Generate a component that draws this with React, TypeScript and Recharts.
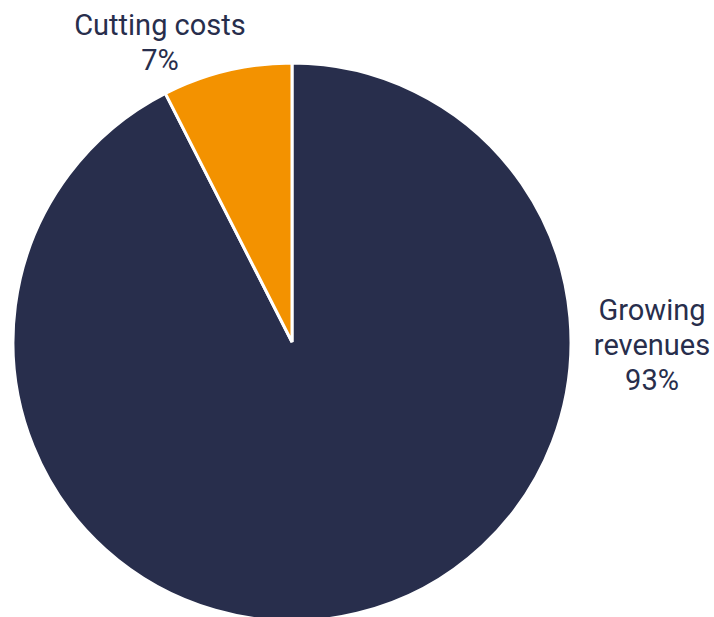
import { Cell, Pie, PieChart } from "recharts";

const CATEGORIES = ["Growing revenues", "Cutting costs"];
// slice geometry reads ~7.5%, labels are rounded
const SHARES = [92.5, 7.5];
const LABEL_LINES = [
  ["Growing", "revenues", "93%"],
  ["Cutting costs", "7%"],
];
const COLORS = ["#282e4c", "#f39200"];

const chartData = CATEGORIES.map((name, i) => ({ name, value: SHARES[i] }));

const LINE_HEIGHT = 35;

function renderLabel(props: any) {
  const { cx, cy, outerRadius, index } = props;
  const lines = LABEL_LINES[index];
  let x: number;
  let firstY: number;
  if (index === 0) {
    // big slice: to the right of the pie, centered vertically
    x = cx + outerRadius + 81;
    firstY = cy + 3 - LINE_HEIGHT;
  } else {
    // small slice: above the pie, left of the top
    x = cx - 132;
    firstY = cy - outerRadius - 38;
  }
  return (
    <text
      x={x}
      y={firstY}
      textAnchor="middle"
      dominantBaseline="central"
      fill="#282e4c"
      fontSize={29}
      fontFamily="Roboto, sans-serif"
    >
      {lines.map((l, i) => (
        <tspan key={i} x={x} y={firstY + i * LINE_HEIGHT}>
          {l}
        </tspan>
      ))}
    </text>
  );
}

export default function App() {
  return (
    <div style={{ position: "absolute", left: 0, top: 0, width: 714, height: 617, background: "#fff" }}>
      <PieChart width={714} height={617} margin={{ top: 0, right: 0, bottom: 0, left: 0 }}>
        <Pie
          data={chartData}
          dataKey="value"
          nameKey="name"
          cx={292}
          cy={342}
          outerRadius={279}
          startAngle={90}
          endAngle={-270}
          label={renderLabel}
          labelLine={false}
          isAnimationActive={false}
        >
          {chartData.map((_, i) => (
            <Cell key={String(i)} fill={COLORS[i]} stroke="#ffffff" strokeWidth={3} />
          ))}
        </Pie>
      </PieChart>
    </div>
  );
}
